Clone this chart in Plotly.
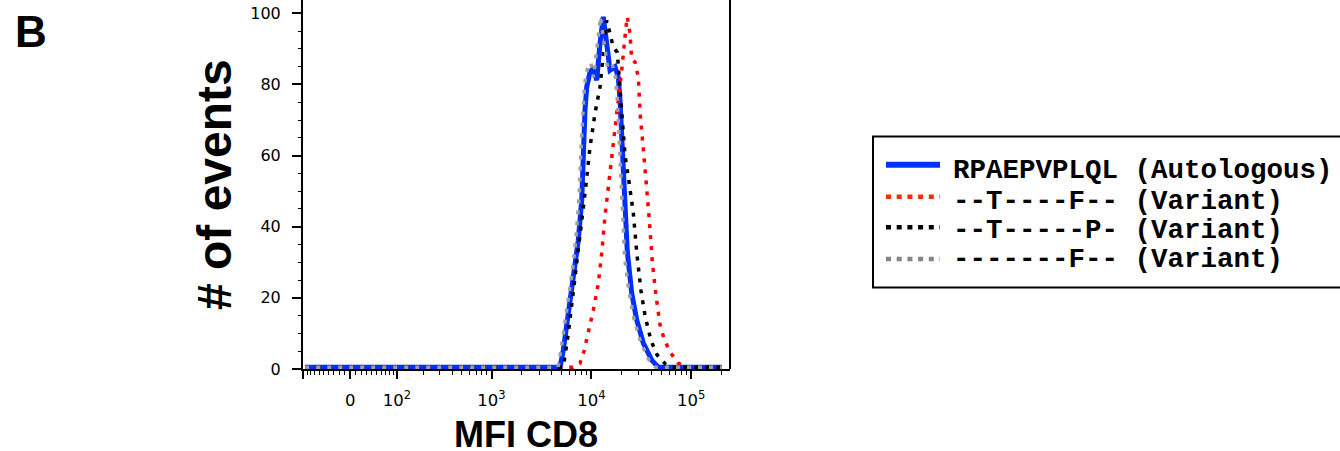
import numpy as np
import plotly.graph_objects as go

# ---------------- data (MFI CD8 values, # of events) ----------------
mfi_auto = [-95, 0, 1000, 4860, 5240, 5670, 6360, 6860, 7400, 8010, 8310, 8640, 8990, 9700,
            10460, 11320, 12210, 13170, 14250, 15380, 17250, 18620, 19360, 20140,
            20900, 21730, 22910, 25360, 28460, 33140, 40210, 46830, 203000]
cnt_auto = [0.5, 0.5, 0.5, 0.5, 5.3, 11.9, 21.3, 28.7, 36.2, 47.5, 61.5, 72.8, 79.3, 83.5,
            84.5, 81.2, 91.5, 99, 91.5, 84, 85, 82, 75.6, 65,
            56, 45, 33, 21.3, 13.8, 7.3, 2.5, 0.5, 0.5]

mfi_v1 = [-95, 1000, 6550, 7700, 8440, 9260, 10460, 11740, 12700, 13700, 14780, 15990, 17250,
          18620, 20140, 20900, 22240, 22910, 24380, 25360, 27370, 29530, 30930,
          33140, 35840, 38050, 40680, 44210, 48700, 53410, 61320, 73760, 90140, 203000]
cnt_v1 = [0.5, 0.5, 0.5, 1.6, 5, 10, 16.5, 24, 32.5, 43, 51.5, 60.6, 68,
          75.6, 84, 89.6, 96.2, 99, 94.3, 87, 86.3, 82, 71,
          62, 51.2, 42, 30.5, 21, 12.5, 8.5, 4.8, 1.7, 0.5, 0.5]

mfi_v2 = [-95, 1000, 5240, 5880, 6600, 7700, 8640, 9700, 10880, 12210, 13170, 14250, 15380,
          16590, 18200, 19360, 20140, 21730, 23450, 26320, 28650, 31430, 34460,
          39570, 45440, 54650, 63780, 203000]
cnt_v2 = [0.5, 0.5, 0.5, 10, 21.3, 36.2, 49.4, 62.4, 71.9, 79.3, 89.6, 98, 94.3,
          90.5, 89, 79, 72, 60, 54, 43.8, 32, 22, 15,
          8, 4, 1.5, 0.5, 0.5]

mfi_v3 = [-95, 1000, 4640, 4970, 5390, 6040, 6550, 7020, 7525, 7880, 8190, 8540, 9260,
          9920, 10510, 11390, 12350, 13390, 14510, 16100, 17450, 18280, 18920,
          19680, 20420, 21580, 23830, 26740, 31210, 37790, 44100, 203000]
cnt_v3 = [0.5, 0.5, 0.5, 5.5, 12, 21.5, 29, 37, 48, 62, 73, 80, 85.5,
          86, 82, 91, 99, 92, 85, 86, 82, 75, 66,
          55, 43, 31, 21.5, 14, 7.5, 2.5, 0.5, 0.5]

series_names = ["RPAEPVPLQL (Autologous)", "--T----F-- (Variant)",
                "--T-----P- (Variant)", "-------F-- (Variant)"]

x_major_vals = [-100, 0, 100, 1000, 10000, 100000]
x_major_text = ["", "0", "10<sup>2</sup>", "10<sup>3</sup>", "10<sup>4</sup>", "10<sup>5</sup>"]
x_minor_vals = ([-v for v in range(10, 100, 10)] + list(range(10, 100, 10)) +
                [m * 10 ** e for e in (2, 3, 4) for m in range(2, 10)] + [200000])
y_ticks = [0, 20, 40, 60, 80, 100]

# ---------------- biexponential-like display scale ----------------
C = 77.0
def tf(v):
    return np.arcsinh(np.asarray(v, dtype=float) / C) / np.log(10)

W, H = 1340, 451
ML, MR, MT, MB = 303, 610, 0, 82
PW, PH = W - ML - MR, H - MT - MB
def px(X):
    return (X - ML) / PW
def py(Y):
    return (H - MB - Y) / PH

styles = [
    dict(color="#0030ff", width=5),
    dict(color="#ff0000", width=3.5, dash="4px,7px"),
    dict(color="#000000", width=3.5, dash="4px,7px"),
    dict(color="#a0a0a0", width=3.5, dash="4px,7px"),
]
data = [(mfi_auto, cnt_auto), (mfi_v1, cnt_v1), (mfi_v2, cnt_v2), (mfi_v3, cnt_v3)]

fig = go.Figure()
for (xv, yv), st, nm in zip(data, styles, series_names):
    fig.add_trace(go.Scatter(x=tf(xv), y=yv, mode="lines", line=st, name=nm,
                             showlegend=False, hoverinfo="skip"))

fig.update_layout(
    width=W, height=H,
    margin=dict(l=ML, r=MR, t=MT, b=MB, pad=0, autoexpand=False),
    paper_bgcolor="white", plot_bgcolor="white",
    xaxis=dict(range=[-0.4726, 3.8029], showgrid=False, zeroline=False,
               showline=True, linecolor="black", linewidth=2,
               tickmode="array", tickvals=tf(x_major_vals).tolist(), ticktext=x_major_text,
               ticks="outside", ticklen=8, tickwidth=1.5, tickcolor="black",
               ticklabelstandoff=7,
               tickfont=dict(family="DejaVu Sans", size=16.5, color="black"),
               minor=dict(tickmode="array", tickvals=tf(x_minor_vals).tolist(),
                          ticks="outside", ticklen=4, tickwidth=1, tickcolor="black"),
               automargin=False, fixedrange=True),
    yaxis=dict(range=[0, 103.75], showgrid=False, zeroline=False,
               showline=True, linecolor="black", linewidth=2,
               tickmode="array", tickvals=y_ticks,
               ticks="outside", ticklen=9, tickwidth=1.5, tickcolor="black",
               ticklabelstandoff=8,
               tickfont=dict(family="DejaVu Sans", size=16, color="black"),
               minor=dict(dtick=5, ticks="outside", ticklen=3, tickwidth=1, tickcolor="black"),
               automargin=False, fixedrange=True),
    showlegend=False,
)

# right spine
fig.add_shape(type="line", xref="paper", yref="paper", x0=1, x1=1, y0=0, y1=1,
              line=dict(color="black", width=2))

# legend box
fig.add_shape(type="rect", xref="paper", yref="paper",
              x0=px(873), x1=px(1350), y0=py(287.5), y1=py(136.5),
              line=dict(color="black", width=2), fillcolor="rgba(0,0,0,0)")
leg_line_y = [164.7, 196.7, 227.3, 259]
leg_text_y = [170.5, 201, 230.5, 259]
leg_styles = [
    dict(color="#0033ff", width=6),
    dict(color="#ff2a00", width=4.5, dash="5px,5.7px"),
    dict(color="#000000", width=4.5, dash="5px,5.7px"),
    dict(color="#858585", width=4.5, dash="5px,5.7px"),
]
for ly, ty, st, nm in zip(leg_line_y, leg_text_y, leg_styles, series_names):
    fig.add_shape(type="line", xref="paper", yref="paper",
                  x0=px(886), x1=px(940), y0=py(ly), y1=py(ly), line=st)
    fig.add_annotation(xref="paper", yref="paper", x=px(951), y=py(ty),
                       xanchor="left", yanchor="middle", showarrow=False,
                       text="<b>" + nm + "</b>",
                       font=dict(family="Liberation Mono", size=27.5, color="black"))

# panel label
fig.add_annotation(xref="paper", yref="paper", x=px(13), y=py(31), xanchor="left",
                   yanchor="middle", showarrow=False, text="<b>B</b>",
                   font=dict(family="Liberation Sans", size=44, color="black"))
# axis titles
fig.add_annotation(xref="paper", yref="paper", x=px(526), y=py(434), xanchor="center",
                   yanchor="middle", showarrow=False, text="<b>MFI CD8</b>",
                   font=dict(family="Liberation Sans", size=36, color="black"))
fig.add_annotation(xref="paper", yref="paper", x=px(215), y=py(185), xanchor="center",
                   yanchor="middle", showarrow=False, text="<b># of events</b>", textangle=-90,
                   font=dict(family="Liberation Sans", size=48, color="black"))

fig.write_html("out.html", config={"displayModeBar": False},
               post_script="document.body.style.margin='0';document.body.style.overflow='hidden';")
